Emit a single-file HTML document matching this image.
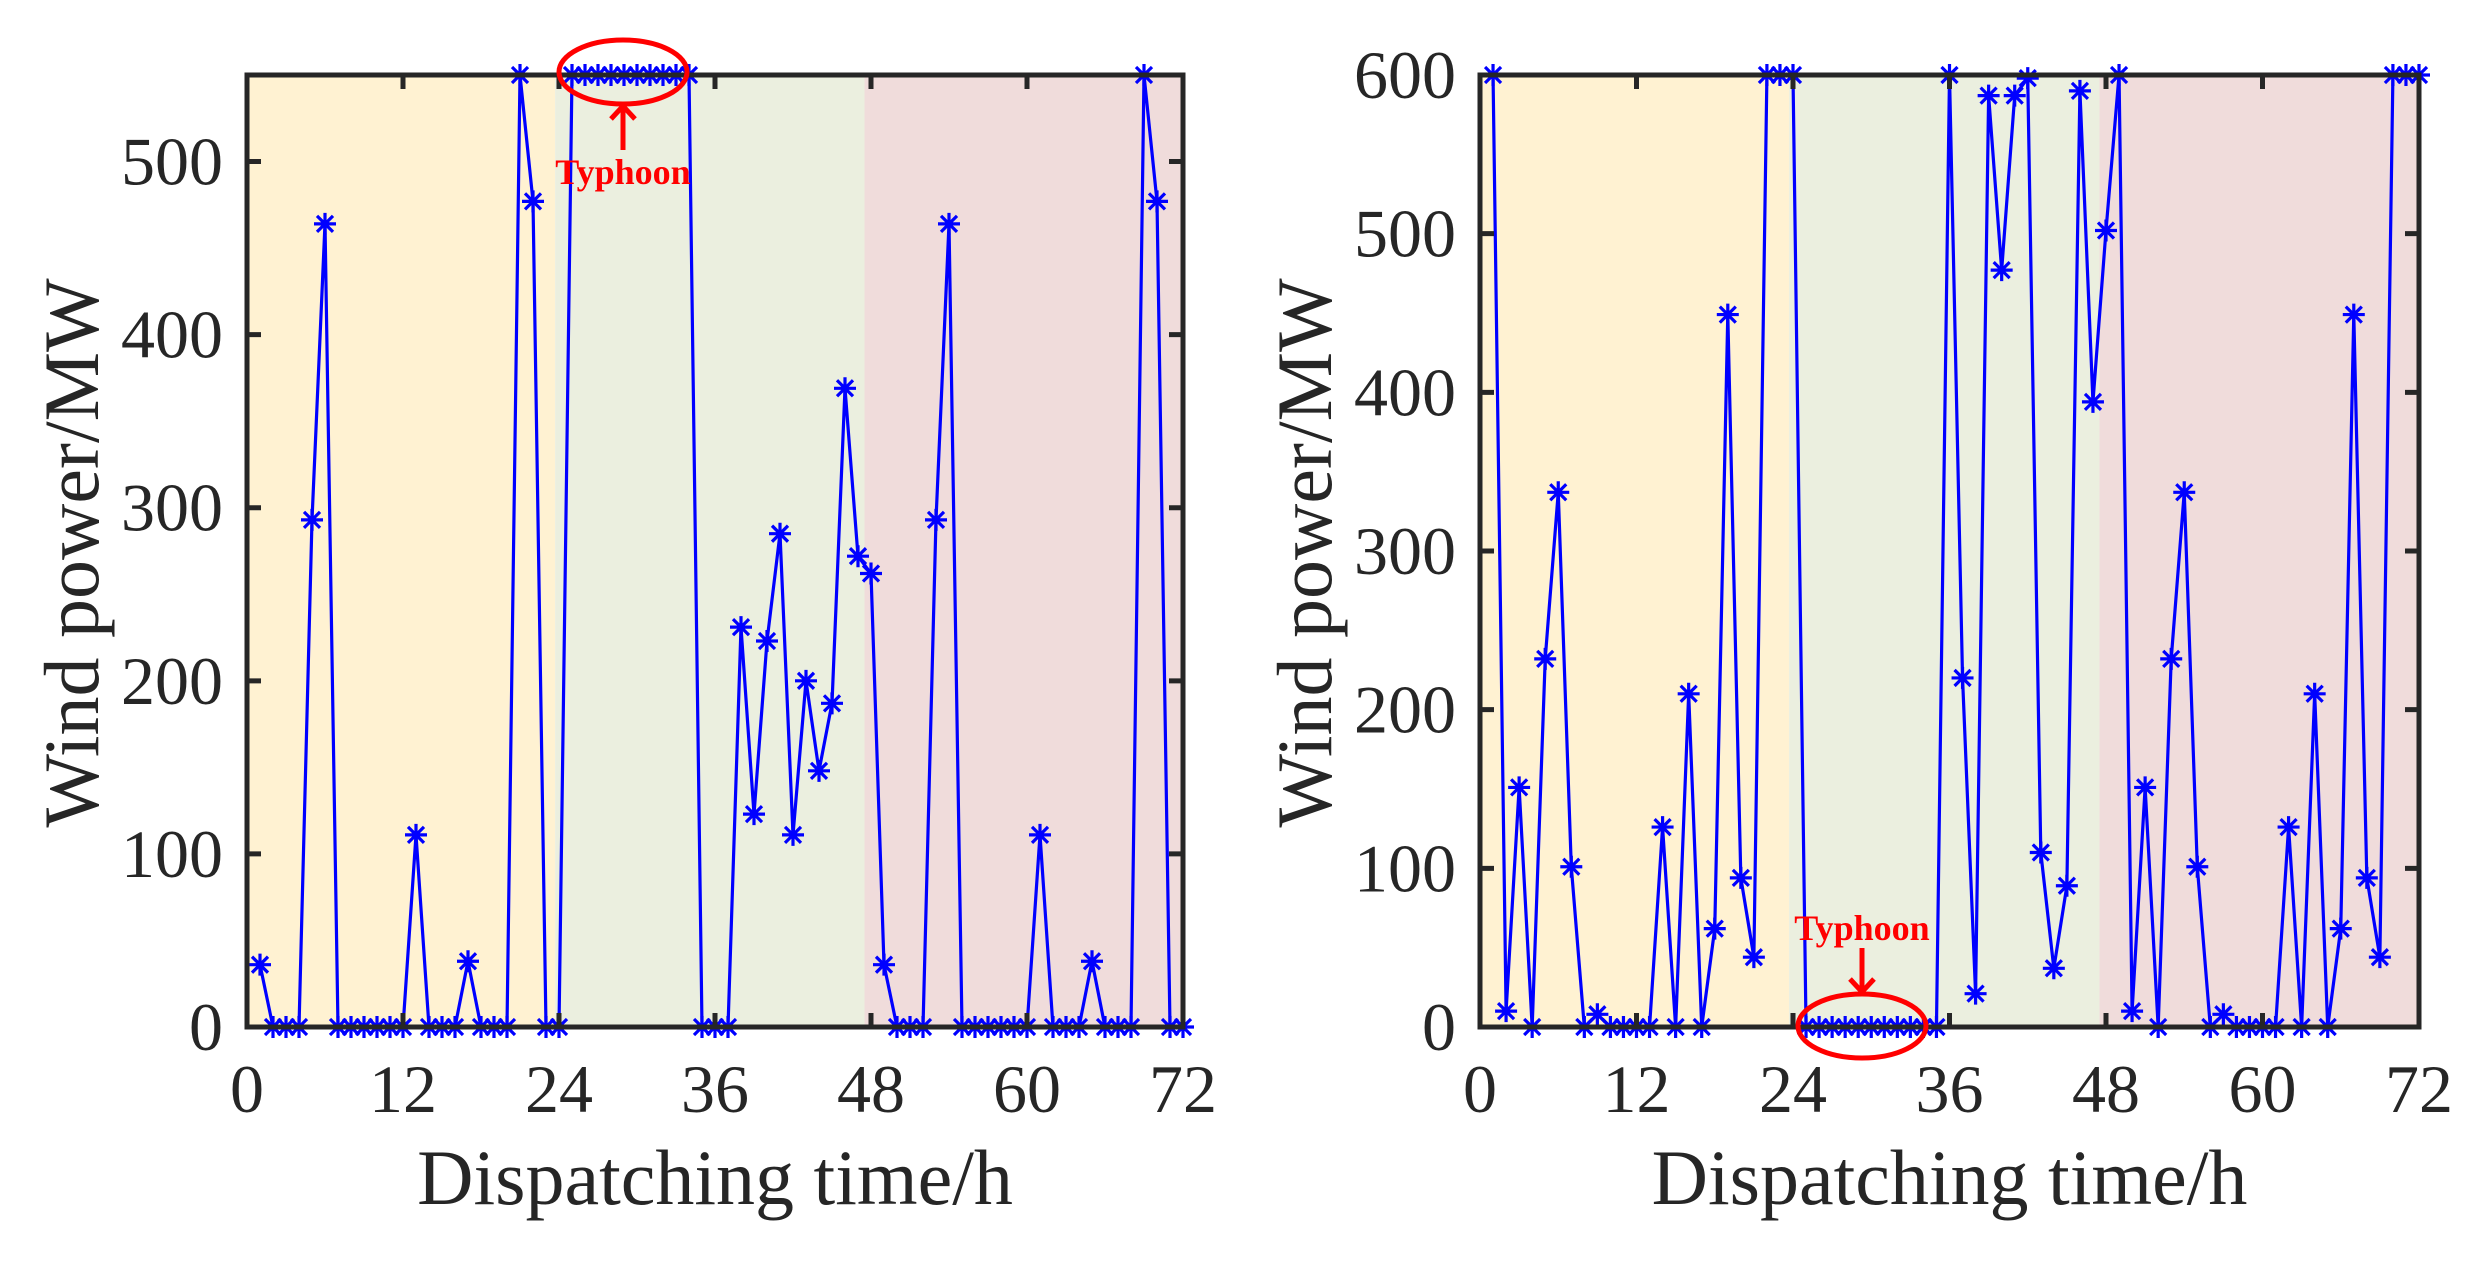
<!DOCTYPE html>
<html><head><meta charset="utf-8">
<style>
html,body{margin:0;padding:0;background:#fff;}
svg{display:block;}
text{font-family:"Liberation Serif","Times New Roman",serif;fill:#262626;}
</style></head>
<body>
<svg id="fig" width="2486" height="1265" viewBox="0 0 2486 1265" xmlns="http://www.w3.org/2000/svg"></svg>
<script>
const hours = Array.from({length:72},(_, i)=>i+1);
const leftValues = [36,0,0,0,293,464,0,0,0,0,0,0,111,0,0,0,38,0,0,0,550,477,0,0,
 550,550,550,550,550,550,550,550,550,550,0,0,0,231,123,223,285,111,200,148,187,369,272,262,
 36,0,0,0,293,464,0,0,0,0,0,0,111,0,0,0,38,0,0,0,550,477,0,0];
const rightValues = [600,10,151,0,232,337,101,0,8,0,0,0,0,126,0,210,0,62,449,94,44,600,600,600,
 0,0,0,0,0,0,0,0,0,0,0,600,220,21,587,477,587,598,110,37,89,590,394,502,
 600,10,151,0,232,337,101,0,8,0,0,0,0,126,0,210,0,62,449,94,44,600,600,600];
const xTicks = [0,12,24,36,48,60,72];
const leftYTicks = [0,100,200,300,400,500];
const rightYTicks = [0,100,200,300,400,500,600];
const bands = [[0,23.7,'#FFF2D2'],[23.7,47.5,'#EBEFDF'],[47.5,72,'#F0DCDB']];

const NS='http://www.w3.org/2000/svg';
const svg=document.getElementById('fig');
function mk(tag,attrs,parent){const e=document.createElementNS(NS,tag);for(const k in attrs)e.setAttribute(k,attrs[k]);(parent||svg).appendChild(e);return e;}

function drawPanel(cfg){
  const g=mk('g',{});
  
  
  const L=cfg.x0,R=cfg.x1,T=75,B=1027;
  const xs=v=>L+(v/72)*(R-L);
  const ys=v=>B-(v/cfg.ymax)*(B-T);
  bands.forEach((b,i)=>{
    const r=mk('rect',{x:xs(b[0]),y:T,width:xs(b[1])-xs(b[0]),height:B-T,fill:b[2]},g);
    
    
  });
  const pts=hours.map((h,i)=>xs(h)+','+ys(cfg.values[i])).join(' ');
  const pl=mk('polyline',{points:pts,fill:'none',stroke:'#0000FF','stroke-width':3.2,'stroke-linejoin':'miter'},g);
  
  
  hours.forEach((h,i)=>{
    const cx=xs(h),cy=ys(cfg.values[i]),r=11,d=8;
    const m=mk('path',{d:`M${cx-r},${cy}H${cx+r}M${cx},${cy-r}V${cy+r}M${cx-d},${cy-d}L${cx+d},${cy+d}M${cx-d},${cy+d}L${cx+d},${cy-d}`,stroke:'#0000FF','stroke-width':3.2,fill:'none'},g);
    
    
  });
  const box=mk('rect',{x:L,y:T,width:R-L,height:B-T,fill:'none',stroke:'#262626','stroke-width':5},g);
  
  
  xTicks.forEach(t=>{
    const x=xs(t);
    mk('path',{d:`M${x},${B}V${B-14}M${x},${T}V${T+14}`,stroke:'#262626','stroke-width':5},g);
    const tx=mk('text',{x:x,y:1112,'font-size':68,'text-anchor':'middle'},g);
    tx.textContent=t;
    
    
  });
  cfg.yTicks.forEach(t=>{
    const y=ys(t);
    mk('path',{d:`M${L},${y}H${L+14}M${R},${y}H${R-14}`,stroke:'#262626','stroke-width':5},g);
    const tx=mk('text',{x:L-24,y:y+23,'font-size':68,'text-anchor':'end'},g);
    tx.textContent=t;
    
    
  });
  const xl=mk('text',{x:(L+R)/2,y:1204,'font-size':78,'text-anchor':'middle'},g);
  xl.textContent='Dispatching time/h';
  
  
  const yl=mk('text',{x:0,y:0,'font-size':78,'text-anchor':'middle',transform:`translate(${cfg.ylx},553) rotate(-90)`},g);
  yl.textContent='Wind power/MW';
  
  
  const a=cfg.ann;
  const el=mk('ellipse',{cx:a.cx,cy:a.cy,rx:64,ry:32,fill:'none',stroke:'#FF0000','stroke-width':5},g);
  
  
  const ar=mk('path',{d:a.arrow,fill:'none',stroke:'#FF0000','stroke-width':5},g);
  
  
  const tt=mk('text',{x:a.cx,y:a.ty,'font-size':36,'font-weight':'bold','text-anchor':'middle',style:'fill:#FF0000'},g);
  tt.textContent='Typhoon';
  
  
}

drawPanel({name:'left-chart',x0:247,x1:1183,ymax:550,values:leftValues,yTicks:leftYTicks,ylx:98,
  ann:{cx:623,cy:72,ty:184,arrow:'M623,150V106M611,119L623,106L635,119'}});
drawPanel({name:'right-chart',x0:1480,x1:2419,ymax:600,values:rightValues,yTicks:rightYTicks,ylx:1331,
  ann:{cx:1862,cy:1026,ty:940,arrow:'M1862,948V992M1850,979L1862,992L1874,979'}});
</script>
</body></html>
